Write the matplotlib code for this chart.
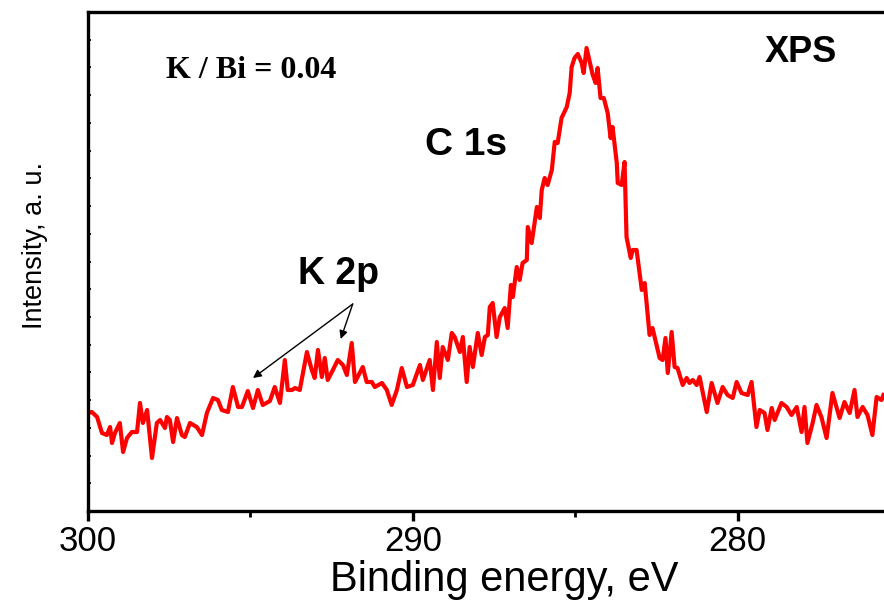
#!/usr/bin/env python3
import numpy as np
import matplotlib
matplotlib.use("Agg")
import matplotlib.pyplot as plt
from matplotlib.ticker import MultipleLocator

# C 1s / K 2p region, binding energy in eV and intensity in arbitrary units
binding_energy = [
    300.00, 299.88, 299.72, 299.57, 299.42, 299.32, 299.26, 299.17, 299.02, 298.92,
    298.80, 298.65, 298.49, 298.40, 298.31, 298.18, 298.03, 297.88, 297.78, 297.63,
    297.57, 297.48, 297.38, 297.26, 297.11, 297.02, 296.86, 296.65, 296.49, 296.34,
    296.15, 296.00, 295.88, 295.69, 295.54, 295.38, 295.26, 295.08, 294.92, 294.77,
    294.62, 294.40, 294.25, 294.09, 293.94, 293.85, 293.72, 293.63, 293.48, 293.26,
    293.11, 293.02, 292.92, 292.80, 292.71, 292.62, 292.46, 292.31, 292.15, 292.03,
    291.88, 291.78, 291.54, 291.42, 291.26, 291.17, 290.95, 290.80, 290.65, 290.49,
    290.34, 290.18, 290.00, 289.78, 289.69, 289.48, 289.38, 289.26, 289.17, 289.08,
    288.92, 288.80, 288.71, 288.55, 288.46, 288.34, 288.25, 288.15, 288.00, 287.88,
    287.78, 287.69, 287.63, 287.54, 287.42, 287.32, 287.17, 287.08, 286.98, 286.92,
    286.80, 286.71, 286.62, 286.49, 286.46, 286.34, 286.18, 286.09, 286.03, 285.94,
    285.85, 285.72, 285.63, 285.54, 285.42, 285.26, 285.17, 285.11, 285.02, 284.92,
    284.80, 284.74, 284.65, 284.55, 284.46, 284.37, 284.31, 284.22, 284.12, 284.00,
    283.91, 283.85, 283.72, 283.69, 283.57, 283.48, 283.42, 283.29, 283.23, 283.11,
    282.95, 282.86, 282.71, 282.62, 282.40, 282.31, 282.22, 282.15, 282.03, 281.94,
    281.85, 281.69, 281.57, 281.48, 281.38, 281.26, 281.17, 280.95, 280.80, 280.62,
    280.46, 280.31, 280.15, 280.03, 279.88, 279.69, 279.57, 279.42, 279.32, 279.17,
    279.08, 278.95, 278.86, 278.65, 278.49, 278.34, 278.18, 278.03, 277.94, 277.85,
    277.69, 277.57, 277.42, 277.26, 277.08, 276.86, 276.71, 276.55, 276.40, 276.31,
    276.15, 276.00, 275.85, 275.72, 275.57, 275.51,
]
intensity = [
    98, 99, 94, 78, 76, 84, 68, 78, 88, 59,
    73, 79, 79, 108, 88, 101, 53, 88, 91, 83,
    94, 91, 69, 93, 76, 74, 88, 84, 76, 98,
    113, 111, 101, 99, 124, 104, 104, 120, 103, 121,
    106, 110, 124, 108, 151, 121, 121, 123, 121, 159,
    141, 133, 161, 134, 153, 131, 141, 151, 146, 136,
    168, 129, 144, 129, 129, 124, 128, 121, 106, 121,
    143, 124, 126, 146, 131, 151, 121, 169, 133, 164,
    151, 178, 174, 159, 174, 129, 164, 144, 178, 156,
    174, 176, 204, 208, 174, 194, 203, 183, 226, 214,
    244, 231, 248, 251, 284, 268, 304, 293, 321, 333,
    326, 341, 369, 368, 393, 404, 418, 444, 453, 457,
    448, 438, 463, 449, 436, 428, 443, 413, 413, 398,
    373, 384, 348, 328, 326, 349, 274, 253, 261, 261,
    221, 228, 176, 183, 153, 151, 173, 138, 179, 144,
    143, 126, 133, 128, 131, 126, 134, 99, 128, 108,
    124, 116, 113, 129, 118, 116, 129, 84, 101, 98,
    81, 103, 91, 108, 104, 96, 104, 79, 104, 68,
    88, 106, 94, 73, 118, 93, 109, 98, 121, 94,
    104, 96, 76, 114, 111, 116,
]

X_TICKS = [300, 290, 280]
X_LIMITS = (300, 275)
Y_LIMITS = (0, 499)

plt.rcParams["font.family"] = ["Liberation Sans", "DejaVu Sans"]

fig = plt.figure(figsize=(8.84, 6.0), dpi=100)
ax = fig.add_axes([88 / 884, 89 / 600, 812 / 884, 499 / 600])

ax.plot(binding_energy, intensity, color="#ff0000", linewidth=3.0,
        solid_joinstyle="round")

ax.set_xlim(*X_LIMITS)
ax.set_ylim(*Y_LIMITS)
ax.set_xticks(X_TICKS)
ax.xaxis.set_minor_locator(MultipleLocator(5))
ax.yaxis.set_major_locator(MultipleLocator(Y_LIMITS[1] / 18))
ax.set_yticklabels([])

for side in ["left", "bottom", "top"]:
    ax.spines[side].set_linewidth(2.4)
ax.spines["right"].set_visible(False)

ax.tick_params(axis="x", which="major", direction="out", length=7, width=2.4,
               labelsize=25, pad=3)
ax.tick_params(axis="x", which="minor", direction="out", length=4, width=2.0)
ax.tick_params(axis="y", which="major", direction="in", length=2.5, width=1.3,
               left=True, right=False)

fig.text(504 / 884, 1 - 580 / 600, "Binding energy, eV", fontsize=30,
         ha="center", va="center")
fig.text(35 / 884, 1 - 245 / 600, "Intensity, a. u.", fontsize=19.5,
         rotation=90, ha="center", va="center")

# labels inside the frame
ax.text(294.98, 441, "K / Bi = 0.04", family="Liberation Serif",
        fontweight="bold", fontsize=23, ha="center", va="center")
ax.text(278.06, 459, "XPS", fontweight="bold", fontsize=26,
        ha="center", va="center")
ax.text(288.37, 366, "C 1s", fontweight="bold", fontsize=28,
        ha="center", va="center")
ax.text(292.28, 237, "K 2p", fontweight="bold", fontsize=27,
        ha="center", va="center")

# two arrows from the K 2p label down to the doublet
arrow_style = dict(arrowstyle="-|>", color="black", lw=1.0,
                   mutation_scale=12, shrinkA=0, shrinkB=0)
ax.annotate("", xy=(294.92, 133), xytext=(291.85, 207), arrowprops=arrow_style)
ax.annotate("", xy=(292.22, 172), xytext=(291.85, 207), arrowprops=arrow_style)

fig.savefig("out.png", dpi=100)
